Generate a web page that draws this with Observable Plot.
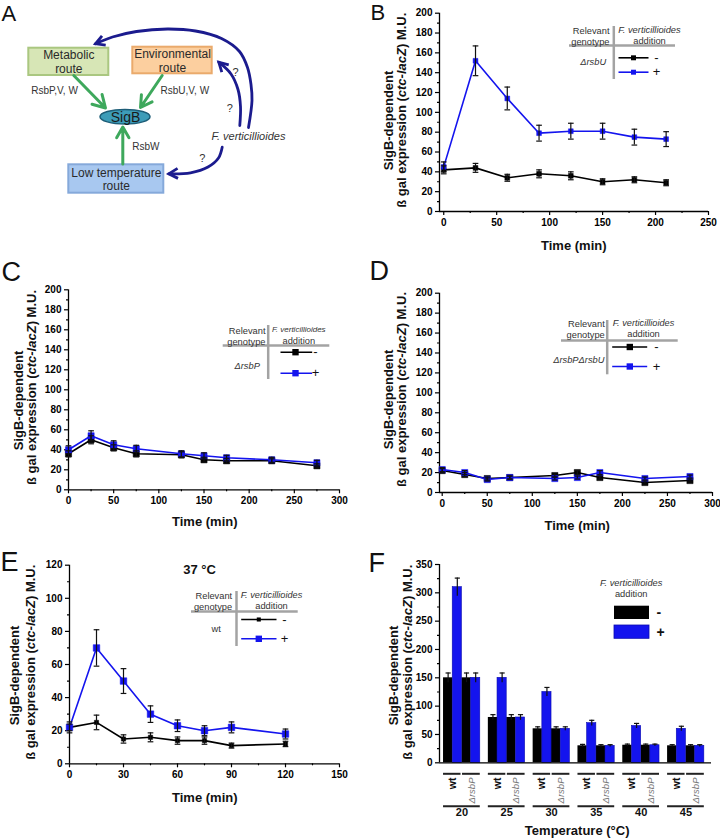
<!DOCTYPE html>
<html>
<head>
<meta charset="utf-8">
<script src="https://cdn.jsdelivr.net/npm/d3@7"></script>
<script src="https://cdn.jsdelivr.net/npm/@observablehq/plot@0.6"></script>
<style>
html,body{margin:0;padding:0;background:#fff;}
#fig{position:relative;width:720px;height:838px;overflow:hidden;background:#fff;}
#fig svg{position:absolute;overflow:visible;}
</style>
</head>
<body>
<div id="fig"></div>
<script>
// ---------------- data ----------------
const timeB = [0, 30, 60, 90, 120, 150, 180, 210];
const bMinus = [42, 44, 34, 38, 36, 30, 32, 29];
const bMinusErr = [4, 4.5, 3.5, 4, 4, 3, 3, 3];
const bPlus = [45, 152, 114, 79, 81, 81, 75, 73];
const bPlusErr = [5, 15, 11.5, 8, 8, 8, 8, 7.5];

const timeCD = [0, 25, 50, 75, 125, 150, 175, 225, 275];
const cMinus = [36, 50, 42, 36, 35, 30, 29, 29, 24];
const cMinusErr = [3, 4, 3, 3, 3, 2.5, 2.5, 2, 2];
const cPlus = [40, 54, 45, 41, 36, 34, 32, 30, 27];
const cPlusErr = [4, 5, 4, 3.5, 3, 3, 2.5, 2.5, 2.5];
const dMinus = [22, 18, 14, 15, 17, 20, 15, 10, 12];
const dMinusErr = [2, 2, 1.5, 1.5, 1.5, 2, 1.5, 1.5, 1.5];
const dPlus = [23, 20, 13, 15, 14, 15, 20, 14, 16];
const dPlusErr = [2, 2, 1.5, 1.5, 1.5, 1.5, 2, 1.5, 1.5];

const timeE = [0, 15, 30, 45, 60, 75, 90, 120];
const eMinus = [22, 25, 15, 16, 14, 14, 11, 12];
const eMinusErr = [3.3, 4.4, 2.5, 2.7, 2.2, 2.2, 1.5, 1.6];
const ePlus = [22, 70, 50, 30, 23, 20, 22, 18];
const ePlusErr = [2, 11, 7.5, 5, 3.5, 3, 3.3, 3];

const tempsF = [20, 25, 30, 35, 40, 45];
const fWtMinus = [150, 80, 60, 30, 31, 30];
const fWtMinusErr = [8.5, 5, 3.5, 2.5, 2, 2];
const fWtPlus = [310, 150, 125, 70, 65, 60];
const fWtPlusErr = [16, 8.5, 8, 5, 4.5, 4.5];
const fRsbPMinus = [150, 80, 60, 30, 31, 30];
const fRsbPMinusErr = [8.5, 5, 3.5, 2, 2, 2];
const fRsbPPlus = [150, 80, 60, 30, 31, 30];
const fRsbPPlusErr = [8.5, 5, 3.5, 2, 2, 2];

// tick labels
const ticksTime300 = [0, 50, 100, 150, 200, 250, 300];
const minorTime300 = [25, 75, 125, 175, 225, 275];
const ticksTime250 = [0, 50, 100, 150, 200, 250];
const minorTime250 = [25, 75, 125, 175, 225];
const ticks200 = [0, 20, 40, 60, 80, 100, 120, 140, 160, 180, 200];
const minor200 = [10, 30, 50, 70, 90, 110, 130, 150, 170, 190];
const ticksTime150 = [0, 30, 60, 90, 120, 150];
const minorTime150 = [15, 45, 75, 105, 135];
const ticks120 = [0, 20, 40, 60, 80, 100, 120];
const minor120 = [10, 30, 50, 70, 90, 110];
const ticks350 = [0, 50, 100, 150, 200, 250, 300, 350];
const minor350 = [25, 75, 125, 175, 225, 275, 325];

const yTitle1 = "SigB-dependent";
const yTitle2 = "ß gal expression (ctc-lacZ) M.U.";
const xTitle = "Time (min)";

// ---------------- style ----------------
const BLUE = "#1414ee";
const INK = "#333";
const FONT = "'Liberation Sans', Arial, Helvetica, sans-serif";
const fig = document.getElementById("fig");
const cap = {draw(ctx, size) { const w = Math.sqrt(size) / 2; ctx.moveTo(-w, 0); ctx.lineTo(w, 0); }};
const chevron = {draw(ctx, size) { const k = Math.sqrt(size) / 10; ctx.moveTo(-9 * k, -5 * k); ctx.lineTo(0, 0); ctx.lineTo(-9 * k, 5 * k); }};

function place(svg, left, top) {
  svg.style.left = left + "px";
  svg.style.top = top + "px";
  fig.appendChild(svg);
}

function axisMarks(c) {
  return [
    Plot.ruleX([c.xdom[0]], {stroke: "black", strokeWidth: 1.3}),
    Plot.ruleY([c.ydom[0]], {stroke: "black", strokeWidth: 1.3}),
    Plot.axisY({ticks: c.yMajor, tickSize: 4, tickPadding: 3, fontSize: 10, fontWeight: "bold", strokeWidth: 1.2, label: null, tickFormat: d => String(d)}),
    Plot.axisY({ticks: c.yMinor, tickSize: 2, strokeWidth: 1.2, label: null, tickFormat: () => ""}),
    ...(c.xMajor ? [
      Plot.axisX({ticks: c.xMajor, tickSize: 4, tickPadding: 3, fontSize: 10, fontWeight: "bold", strokeWidth: 1.2, label: null, tickFormat: d => String(d)}),
      Plot.axisX({ticks: c.xMinor, tickSize: 2, strokeWidth: 1.2, label: null, tickFormat: () => ""})
    ] : [])
  ];
}

function seriesMarks(t, v, e, color, r, capR) {
  const rows = t.map((x, i) => ({x, y: v[i], lo: v[i] - e[i], hi: v[i] + e[i]}));
  return {
    line: [
      Plot.line(rows, {x: "x", y: "y", stroke: color, strokeWidth: 1.6}),
      Plot.dot(rows, {x: "x", y: "y", symbol: "square", r, fill: color, stroke: color, strokeWidth: 0.5})
    ],
    err: [
      Plot.ruleX(rows, {x: "x", y1: "lo", y2: "hi", stroke: "#111", strokeWidth: 1.2}),
      Plot.dot(rows, {x: "x", y: "lo", symbol: cap, r: capR, stroke: "#111", fill: "none", strokeWidth: 1.2}),
      Plot.dot(rows, {x: "x", y: "hi", symbol: cap, r: capR, stroke: "#111", fill: "none", strokeWidth: 1.2})
    ]
  };
}

function linePanel(c) {
  const sm = c.series.map(s => seriesMarks(s.t, s.v, s.e, s.color, s.r, c.capR));
  const marks = [
    ...axisMarks(c),
    ...sm.flatMap(s => s.line),
    ...sm.flatMap(s => s.err)
  ];
  const svg = Plot.plot({
    width: c.w, height: c.h,
    marginLeft: c.ml, marginRight: c.mr, marginTop: c.mt, marginBottom: c.mb,
    x: {domain: c.xdom, label: null},
    y: {domain: c.ydom, label: null},
    style: {fontFamily: FONT, background: "transparent", color: "black", fontWeight: "bold"},
    marks
  });
  place(svg, c.left, c.top);
}

// B
linePanel({left: 360, top: 0, w: 360, h: 280, ml: 79, mr: 12, mt: 12.7, mb: 69,
  xdom: [-4, 250], ydom: [0, 200], xMajor: ticksTime250, xMinor: minorTime250, yMajor: ticks200, yMinor: minor200, capR: 3.2,
  series: [
    {t: timeB, v: bMinus, e: bMinusErr, color: "black", r: 2.7},
    {t: timeB, v: bPlus, e: bPlusErr, color: BLUE, r: 2.7}
  ]});
// C
linePanel({left: 0, top: 280, w: 360, h: 270, ml: 68, mr: 21, mt: 9.3, mb: 60.7,
  xdom: [0, 300], ydom: [0, 200], xMajor: ticksTime300, xMinor: minorTime300, yMajor: ticks200, yMinor: minor200, capR: 3.2,
  series: [
    {t: timeCD, v: cMinus, e: cMinusErr, color: "black", r: 3.5},
    {t: timeCD, v: cPlus, e: cPlusErr, color: BLUE, r: 3.5}
  ]});
// D
linePanel({left: 360, top: 280, w: 360, h: 270, ml: 79, mr: 8, mt: 12.7, mb: 58,
  xdom: [-3, 300], ydom: [0, 200], xMajor: ticksTime300, xMinor: minorTime300, yMajor: ticks200, yMinor: minor200, capR: 3,
  series: [
    {t: timeCD, v: dMinus, e: dMinusErr, color: "black", r: 3.5},
    {t: timeCD, v: dPlus, e: dPlusErr, color: BLUE, r: 3.5}
  ]});
// E
linePanel({left: 0, top: 560, w: 360, h: 278, ml: 69, mr: 21, mt: 4.7, mb: 74.7,
  xdom: [0, 150], ydom: [0, 120], xMajor: ticksTime150, xMinor: minorTime150, yMajor: ticks120, yMinor: minor120, capR: 3.2,
  series: [
    {t: timeE, v: eMinus, e: eMinusErr, color: "black", r: 2.4},
    {t: timeE, v: ePlus, e: ePlusErr, color: BLUE, r: 3.7}
  ]});

// F (grouped bars on numeric temperature axis)
{
  const fSeries = [
    {v: fWtMinus, e: fWtMinusErr, blue: false},
    {v: fWtPlus, e: fWtPlusErr, blue: true},
    {v: fRsbPMinus, e: fRsbPMinusErr, blue: false},
    {v: fRsbPPlus, e: fRsbPPlusErr, blue: true}
  ];
  const BW = 1.025, G0 = 2.05;
  const rows = tempsF.flatMap((T, gi) => fSeries.map((s, si) => ({
    T, si, v: s.v[gi], lo: s.v[gi] - s.e[gi], hi: s.v[gi] + s.e[gi], blue: s.blue,
    x1: T - G0 + si * BW, x2: T - G0 + (si + 1) * BW, xc: T - G0 + (si + 0.5) * BW
  })));
  const c = {xdom: [17.5, 47.85], ydom: [0, 350], yMajor: ticks350, yMinor: minor350};
  const svg = Plot.plot({
    width: 360, height: 278, marginLeft: 79, marginRight: 9, marginTop: 4, marginBottom: 75.7,
    x: {domain: c.xdom, label: null, axis: null},
    y: {domain: c.ydom, label: null},
    style: {fontFamily: FONT, background: "transparent", color: "black", fontWeight: "bold"},
    marks: [
      Plot.rectY(rows, {filter: d => !d.blue, x1: "x1", x2: "x2", y1: 0, y2: "v", fill: "black"}),
      Plot.rectY(rows, {filter: d => d.blue, x1: "x1", x2: "x2", y1: 0, y2: "v", fill: BLUE, stroke: "#0a0ab0", strokeWidth: 0.6}),
      Plot.ruleX(rows, {x: "xc", y1: "lo", y2: "hi", stroke: "#111", strokeWidth: 1.2}),
      Plot.dot(rows, {x: "xc", y: "hi", symbol: cap, r: 2.9, stroke: "#111", fill: "none", strokeWidth: 1.2}),
      ...axisMarks(c),
      // group annotations below the axis
      Plot.ruleY(tempsF, {y: 0, x1: T => T - G0, x2: T => T - 0.1, dy: 11, stroke: "#222", strokeWidth: 2}),
      Plot.ruleY(tempsF, {y: 0, x1: T => T + 0.07, x2: T => T + G0, dy: 11, stroke: "#222", strokeWidth: 2}),
      Plot.text(tempsF, {x: T => T - 1.05, y: 0, text: () => "wt", rotate: -90, textAnchor: "end", dy: 14.7, fontSize: 10.5, fontWeight: "bold", fill: "#111"}),
      Plot.text(tempsF, {x: T => T + 1.07, y: 0, text: () => "ΔrsbP", rotate: -90, textAnchor: "end", dy: 14.7, fontSize: 9.5, fontWeight: "normal", fontStyle: "italic", fill: "#777"}),
      Plot.ruleY(tempsF, {y: 0, x1: T => T - G0, x2: T => T + G0, dy: 43.4, stroke: "#222", strokeWidth: 2}),
      Plot.text(tempsF, {x: T => T, y: 0, text: T => String(T), dy: 49.4, fontSize: 11, fontWeight: "bold", fill: "#111"})
    ]
  });
  place(svg, 360, 560);
}

// ---------------- overlay: diagram A, letters, titles, legends ----------------
const letters = [
  {t: "A", x: 1, y: 20.7, s: 22}, {t: "B", x: 370, y: 19.5, s: 22},
  {t: "C", x: 1, y: 280, s: 27}, {t: "D", x: 369, y: 279, s: 27},
  {t: "E", x: 0, y: 570, s: 27}, {t: "F", x: 368, y: 571.5, s: 27}
];
const yTitles = [
  {x: 388.3, y: 120, t: yTitle1}, {x: 401.7, y: 109.7, t: yTitle2},
  {x: 18.3, y: 400, t: yTitle1}, {x: 31.7, y: 387, t: yTitle2},
  {x: 388.3, y: 399, t: yTitle1}, {x: 401.7, y: 389, t: yTitle2},
  {x: 14, y: 675, t: yTitle1}, {x: 30.7, y: 661.7, t: yTitle2},
  {x: 393.3, y: 675, t: yTitle1}, {x: 407, y: 661.7, t: yTitle2}
];
const xTitles = [
  {x: 573.3, y: 245.7, t: xTitle}, {x: 204.3, y: 521.7, t: xTitle},
  {x: 576.7, y: 525.7, t: xTitle}, {x: 204.3, y: 797.3, t: xTitle},
  {x: 576.7, y: 830, t: "Temperature (°C)"}, {x: 199, y: 569, t: "37 °C"}
];
const legends = [
  {vx: 613.3, vy1: 26, vy2: 79, hy: 45, hx1: 569, hx2: 675, relX: 609, relY: 35, fvX: 649, fvY1: 29.3, fvY2: 40.5, fvS: 9.3,
   gen: "ΔrsbU", genX: 592.7, genY: 62, it: true, lx1: 618, lx2: 648, mx: 633, by: 57.3, uy: 71.7, sx: 656, rB: 2.8, rU: 2.8},
  {vx: 267.7, vy1: 325, vy2: 379, hy: 345, hx1: 222.7, hx2: 329.3, relX: 265, relY: 335, fvX: 298.3, fvY1: 329.3, fvY2: 340.5, fvS: 8,
   gen: "ΔrsbP", genX: 246.7, genY: 366, it: true, lx1: 280, lx2: 311.7, mx: 295, by: 351.7, uy: 372.7, sx: 315, rB: 3.6, rU: 3.6},
  {vx: 606.7, vy1: 320, vy2: 374.3, hy: 340, hx1: 561, hx2: 677.7, relX: 604.3, relY: 328.5, fvX: 643, fvY1: 323, fvY2: 333.8, fvS: 9.2,
   gen: "ΔrsbPΔrsbU", genX: 578.3, genY: 360, it: true, lx1: 611.7, lx2: 646.7, mx: 629.3, by: 346.5, uy: 366, sx: 656, rB: 3.6, rU: 3.6},
  {vx: 236, vy1: 591, vy2: 646, hy: 611, hx1: 191, hx2: 297.7, relX: 231.7, relY: 600, fvX: 271, fvY1: 594.3, fvY2: 605.5, fvS: 9.2,
   gen: "wt", genX: 215.7, genY: 628.3, it: false, lx1: 240.7, lx2: 276, mx: 258.3, by: 619, uy: 638.3, sx: 284, rB: 2.3, rU: 3.6}
];
const boxes = [
  {label: "Metabolic\nroute", x1: 28.3, x2: 108.3, y1: 47.7, y2: 75, fill: "#d7e6b6", stroke: "#aac780"},
  {label: "Environmental\nroute", x1: 132.3, x2: 211.7, y1: 46.7, y2: 73.3, fill: "#fccf9f", stroke: "#eaaa6c"},
  {label: "Low temperature\nroute", x1: 68.3, x2: 163.3, y1: 164.3, y2: 192.7, fill: "#a8c8f0", stroke: "#85a9da"}
];
const sigB = [{label: "SigB", x1: 100, x2: 150, y1: 109.4, y2: 124}];
const greenArrows = [
  {x1: 73.3, y1: 75, x2: 105, y2: 107.5},
  {x1: 161.7, y1: 75, x2: 140, y2: 107},
  {x1: 122.3, y1: 163.5, x2: 122.3, y2: 126.5}
];
const routeLabels = [
  {t: "RsbP,V, W", x: 54, y: 90, a: "middle"},
  {t: "RsbU,V, W", x: 184.3, y: 90, a: "middle"},
  {t: "RsbW", x: 131.7, y: 146.7, a: "start"}
];
// traced paths of the three curved regulatory arrows (diagram layout)
const bluePaths = [
  [[248, 127], [251.5, 100], [250.5, 84], [247, 67], [239, 51], [221, 38], [195, 30.5], [167, 28.5], [136, 31], [112, 36.5], [95, 43.3]],
  [[239.3, 125], [240, 106], [237.5, 89], [230.5, 73.5], [218.3, 61.7]],
  [[221.7, 146.7], [218, 157.5], [207.5, 166.5], [190, 172.3], [168.3, 173.3]]
];
const blueLines = bluePaths.flatMap((p, k) => p.map(([x, y]) => ({k, x, y})));
const blueHeads = bluePaths.map(p => {
  const [a, b] = [p[p.length - 2], p[p.length - 1]];
  return {x: b[0], y: b[1], angle: Math.atan2(b[1] - a[1], b[0] - a[0]) * 180 / Math.PI};
});
const questions = [{x: 235, y: 71.7}, {x: 229.3, y: 108.3}, {x: 201.7, y: 158.3}];

const ov = [
  // diagram A
  ...boxes.map(b => Plot.rect([b], {x1: "x1", x2: "x2", y1: "y1", y2: "y2", fill: b.fill, stroke: b.stroke, strokeWidth: 2})),
  Plot.text(boxes, {x: d => (d.x1 + d.x2) / 2, y: d => (d.y1 + d.y2) / 2, text: "label", fontSize: 12, lineHeight: 1.15, fill: "#2a2a2a"}),
  Plot.arrow(greenArrows, {x1: "x1", y1: "y1", x2: "x2", y2: "y2", stroke: "#3ea85c", strokeWidth: 3, headLength: 7}),
  Plot.rect(sigB, {x1: "x1", x2: "x2", y1: "y1", y2: "y2", rx: 25, ry: 7.3, fill: "#3d9cb8", stroke: "#1d5d77", strokeWidth: 1.5}),
  Plot.text(sigB, {x: d => (d.x1 + d.x2) / 2, y: d => (d.y1 + d.y2) / 2, text: "label", fontSize: 14, fill: "#1a1a1a"}),
  Plot.text(routeLabels.filter(d => d.a === "middle"), {x: "x", y: "y", text: "t", fontSize: 10, fill: INK}),
  Plot.text(routeLabels.filter(d => d.a === "start"), {x: "x", y: "y", text: "t", fontSize: 10, fill: INK, textAnchor: "start"}),
  Plot.line(blueLines, {x: "x", y: "y", z: "k", curve: "catmull-rom", stroke: "#1b1b8e", strokeWidth: 2.8}),
  Plot.dot(blueHeads, {x: "x", y: "y", rotate: "angle", symbol: chevron, r: 5.64, stroke: "#1b1b8e", fill: "none", strokeWidth: 2.8, strokeLinejoin: "miter"}),
  Plot.text([{x: 248, y: 136}], {x: "x", y: "y", text: () => "F. verticillioides", fontSize: 11, fontStyle: "italic", fill: INK}),
  Plot.text(questions, {x: "x", y: "y", text: () => "?", fontSize: 11, fill: INK}),
  // panel letters
  ...letters.map(l => Plot.text([l], {x: "x", y: "y", text: "t", fontSize: l.s, textAnchor: "start", lineAnchor: "bottom", fill: "#111"})),
  // axis titles
  Plot.text(yTitles, {x: "x", y: "y", text: "t", rotate: -90, fontSize: 13, fontWeight: "bold", fill: "#111"}),
  Plot.text(xTitles, {x: "x", y: "y", text: "t", fontSize: 13, fontWeight: "bold", fill: "#111"}),
  // table legends
  Plot.ruleX(legends, {x: "vx", y1: "vy1", y2: "vy2", stroke: "#a3a3a3", strokeWidth: 2.5}),
  Plot.ruleY(legends, {y: "hy", x1: "hx1", x2: "hx2", stroke: "#a3a3a3", strokeWidth: 2.5}),
  Plot.text(legends, {x: "relX", y: "relY", text: () => "Relevant\ngenotype", textAnchor: "end", fontSize: 9.3, lineHeight: 1.2, fill: INK}),
  ...legends.map(L => Plot.text([L], {x: "fvX", y: "fvY1", text: () => "F. verticillioides", fontSize: L.fvS, fontStyle: "italic", fill: INK})),
  Plot.text(legends, {x: "fvX", y: "fvY2", text: () => "addition", fontSize: 9.3, fill: INK}),
  Plot.text(legends, {filter: d => d.it, x: "genX", y: "genY", text: "gen", fontSize: 9.3, fontStyle: "italic", fill: INK}),
  Plot.text(legends, {filter: d => !d.it, x: "genX", y: "genY", text: "gen", fontSize: 9.3, fill: INK}),
  Plot.link(legends, {x1: "lx1", x2: "lx2", y1: "by", y2: "by", stroke: "black", strokeWidth: 1.6}),
  Plot.link(legends, {x1: "lx1", x2: "lx2", y1: "uy", y2: "uy", stroke: BLUE, strokeWidth: 1.6}),
  ...legends.map(L => Plot.dot([L], {x: "mx", y: "by", symbol: "square", r: L.rB, fill: "black"})),
  ...legends.map(L => Plot.dot([L], {x: "mx", y: "uy", symbol: "square", r: L.rU, fill: BLUE})),
  Plot.text(legends, {x: "sx", y: "by", text: () => "-", fontSize: 13, fill: "#111"}),
  Plot.text(legends, {x: "sx", y: "uy", text: () => "+", fontSize: 13, fill: "#111"}),
  // F legend
  Plot.text([{x: 630.7, y: 582.7}], {x: "x", y: "y", text: () => "F. verticillioides", fontSize: 9.3, fontStyle: "italic", fill: INK}),
  Plot.text([{x: 630.7, y: 593.8}], {x: "x", y: "y", text: () => "addition", fontSize: 9.3, fill: INK}),
  Plot.rect([{x1: 614, x2: 649, y1: 605.7, y2: 619}], {x1: "x1", x2: "x2", y1: "y1", y2: "y2", fill: "black"}),
  Plot.rect([{x1: 614, x2: 649, y1: 625, y2: 638.3}], {x1: "x1", x2: "x2", y1: "y1", y2: "y2", fill: BLUE, stroke: "#0a0ab0", strokeWidth: 0.8}),
  Plot.text([{x: 656, y: 612}], {x: "x", y: "y", text: () => "-", fontSize: 14, fontWeight: "bold", textAnchor: "start", fill: "#111"}),
  Plot.text([{x: 656, y: 631.7}], {x: "x", y: "y", text: () => "+", fontSize: 14, fontWeight: "bold", textAnchor: "start", fill: "#111"})
];

const overlay = Plot.plot({
  width: 720, height: 838, margin: 0,
  x: {domain: [0, 720], range: [0, 720], axis: null},
  y: {domain: [0, 838], range: [0, 838], axis: null},
  style: {fontFamily: FONT, background: "transparent", color: "black"},
  marks: ov
});
d3.select(overlay).selectAll("text").each(function () {
  const s = this.textContent;
  const k = s.indexOf("ctc-lacZ");
  if (k < 0 || this.querySelector("tspan")) return;
  this.textContent = "";
  const t = d3.select(this);
  t.append("tspan").text(s.slice(0, k));
  t.append("tspan").attr("font-style", "italic").text("ctc-lacZ");
  t.append("tspan").text(s.slice(k + 8));
});
place(overlay, 0, 0);
</script>
</body>
</html>
